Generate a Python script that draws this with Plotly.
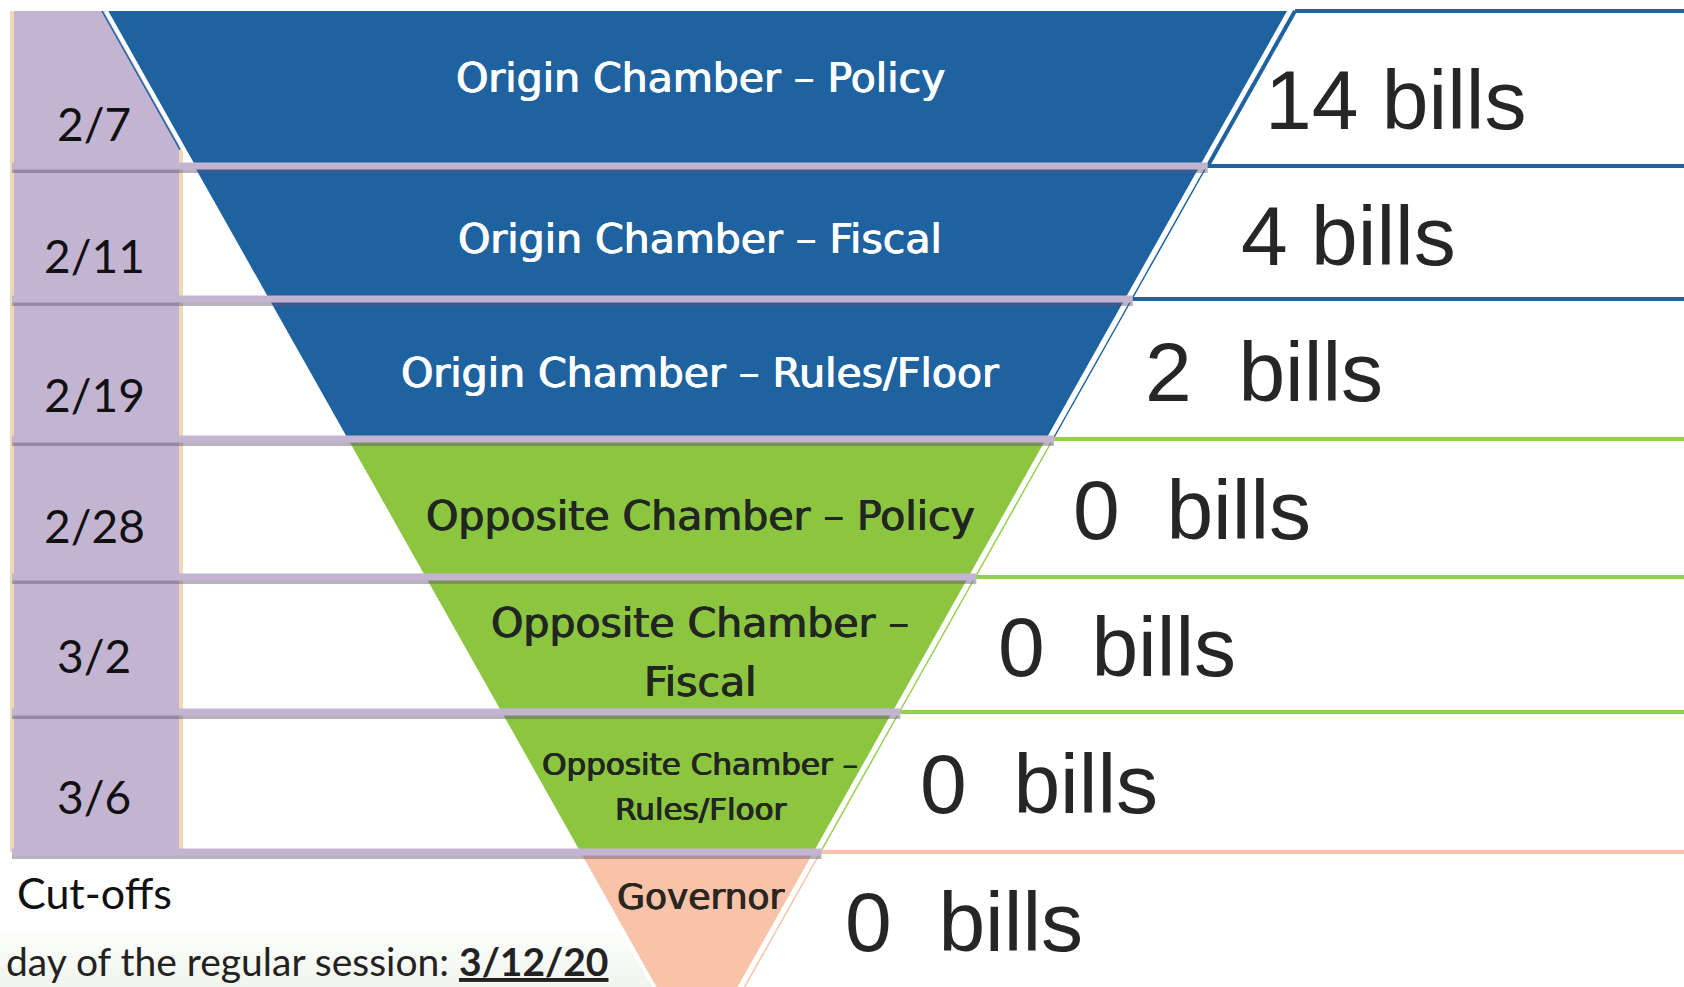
import plotly.graph_objects as go

# ---------------- data ----------------
stages = ["Origin Chamber – Policy", "Origin Chamber – Fiscal", "Origin Chamber – Rules/Floor",
          "Opposite Chamber – Policy", "Opposite Chamber –<br>Fiscal",
          "Opposite Chamber –<br>Rules/Floor", "Governor"]
groups = ["origin", "origin", "origin", "opposite", "opposite", "opposite", "governor"]
cutoffs = ["2/7", "2/11", "2/19", "2/28", "3/2", "3/6"]
bill_counts = [14, 4, 2, 0, 0, 0, 0]
last_day = "3/12/20"

# ---------------- layout / geometry ----------------
W, H = 1684, 987
row_edges = [11, 166, 299, 439, 577, 712, 852, 987]
CX, HW0, SLOPE = 697, 590, 0.563


def half(y):
    return HW0 - SLOPE * (y - row_edges[0])


def left(y):
    return CX - half(y)


def right(y):
    return CX + half(y)


fill_col = {"origin": "#1F62A0", "opposite": "#8CC540", "governor": "#F8C3A8"}
line_col = {"origin": "#1F62A0", "opposite": "#92D050", "governor": "#F8C3A8"}
txt_col = {"origin": "#FFFFFF", "opposite": "#222620", "governor": "#2A2622"}
PURPLE = "#C3B5D1"
BEIGE = "#EBD9B8"

label_size = [41, 41, 41, 41, 41, 31, 36]
label_dy = [-11, 6, 4, 8, 8, 4.5, -23]
bill_dx = [20, 77, 58, 64, 66, 65, 67]
bill_dy = [11, 3, 3, 2, 2, 2, 2]
date_dy = [43, 44, 45, 52, 57, 56]
bill_sep = [" ", " ", "\u00a0\u00a0", "\u00a0\u00a0", "\u00a0\u00a0", "\u00a0\u00a0", "\u00a0\u00a0"]

fig = go.Figure()


def poly(xs, ys, color):
    fig.add_trace(go.Scatter(x=xs, y=ys, mode="lines", fill="toself", fillcolor=color,
                             line=dict(width=0, color=color), hoverinfo="skip", showlegend=False))


def seg(xs, ys, color, width):
    fig.add_trace(go.Scatter(x=xs, y=ys, mode="lines", line=dict(width=width, color=color),
                             hoverinfo="skip", showlegend=False))


# faint gradient at bottom-left
nb = 10
g0, g1 = 925, 987
for k in range(nb):
    ya = g0 + (g1 - g0) * k / nb
    yb = g0 + (g1 - g0) * (k + 1) / nb
    t = (k + 1) / nb
    r = int(255 - t * 13)
    gg = int(255 - t * 9)
    b = int(255 - t * 17)
    poly([0, left(ya) - 4, left(yb) - 4, 0], [ya, ya, yb + 0.5, yb + 0.5], f"rgb({r},{gg},{b})")

# cut-off column (beige frame + purple)
col_bottom = row_edges[len(cutoffs)]
poly([10, 183, 183, 10], [row_edges[0], row_edges[0], col_bottom, col_bottom], BEIGE)
poly([14, 179, 179, 14], [row_edges[0], row_edges[0], col_bottom, col_bottom], PURPLE)
# purple extension in first row following the funnel edge
y_meet = row_edges[0] + (half(row_edges[0]) - (CX - 179 - 6)) / SLOPE
poly([14, left(row_edges[0]) - 6, 179, 179, 14],
     [row_edges[0], row_edges[0], y_meet, row_edges[1], row_edges[1]], PURPLE)
seg([left(row_edges[0]) - 5, 179 + 1], [row_edges[0], y_meet], "#1F62A0", 1.5)

# funnel trapezoids
for i, g in enumerate(groups):
    yt, yb = row_edges[i], row_edges[i + 1]
    poly([left(yt), right(yt), right(yb), left(yb)], [yt, yt, yb, yb], fill_col[g])
    if i == 0:
        seg([left(yt) - 1, left(yb) - 1], [yt, yb], "white", 4)

# right-hand panels
for i, g in enumerate(groups):
    yt, yb = row_edges[i], row_edges[i + 1]
    off = 8 if i == 0 else 7
    seg([right(yt) + off, W + 5], [yt, yt], line_col[g], 4)
    seg([right(yt) + off, right(yb) + off], [yt, yb], line_col[g], 4 if i == 0 else 1.5)

# separator bars with shadow
for i in range(len(cutoffs)):
    y = row_edges[i + 1]
    xe = right(y) + 8
    seg([12, xe], [y + 5, y + 5], "rgba(95,85,110,0.45)", 4)
    seg([12, xe], [y, y], PURPLE, 7)

annotations = []
# stage labels (each line placed separately for line spacing)
for i, (s, g) in enumerate(zip(stages, groups)):
    yt, yb = row_edges[i], row_edges[i + 1]
    yc = (yt + yb) / 2 + label_dy[i]
    lines = s.split("<br>")
    sp = 1.43 * label_size[i]
    c = txt_col[g]
    for j, ln in enumerate(lines):
        yl = yc + (j - (len(lines) - 1) / 2) * sp
        annotations.append(dict(x=CX + 3, y=yl, text=ln, showarrow=False,
                                xanchor="center", yanchor="middle",
                                font=dict(family="DejaVu Sans", size=label_size[i], color=c,
                                          shadow=f"0.7px 0 0 {c}, -0.4px 0 0 {c}")))
# bill counts
for i, n in enumerate(bill_counts):
    yt, yb = row_edges[i], row_edges[i + 1]
    ym = (yt + yb) / 2
    annotations.append(dict(x=right(ym) + bill_dx[i], y=ym + bill_dy[i], text=f"{n}{bill_sep[i]}bills",
                            showarrow=False, xanchor="left", yanchor="middle",
                            font=dict(family="Liberation Sans", size=84, color="#262626")))
# cut-off dates
for i, d in enumerate(cutoffs):
    yb = row_edges[i + 1]
    annotations.append(dict(x=94, y=yb - date_dy[i], text=d, showarrow=False, xanchor="center",
                            yanchor="middle", font=dict(family="Lato", size=46, color="#111111")))

annotations.append(dict(x=15, y=892, text="Cut-offs", showarrow=False, xanchor="left",
                        yanchor="middle", font=dict(family="Lato", size=43, color="#111111")))
annotations.append(dict(x=4, y=961, text=f"day of the regular session: <b><u>{last_day}</u></b>",
                        showarrow=False, xanchor="left", yanchor="middle",
                        font=dict(family="Lato", size=39, color="#222222")))

fig.update_layout(
    width=W, height=H, margin=dict(l=0, r=0, t=0, b=0), autosize=False,
    paper_bgcolor="white", plot_bgcolor="white",
    xaxis=dict(range=[0, W], visible=False, fixedrange=True),
    yaxis=dict(range=[H, 0], visible=False, fixedrange=True),
    annotations=annotations, showlegend=False,
)

fig.write_html("out.html", config={"displayModeBar": False},
               post_script="document.body.style.margin='0';document.body.style.overflow='hidden';")
